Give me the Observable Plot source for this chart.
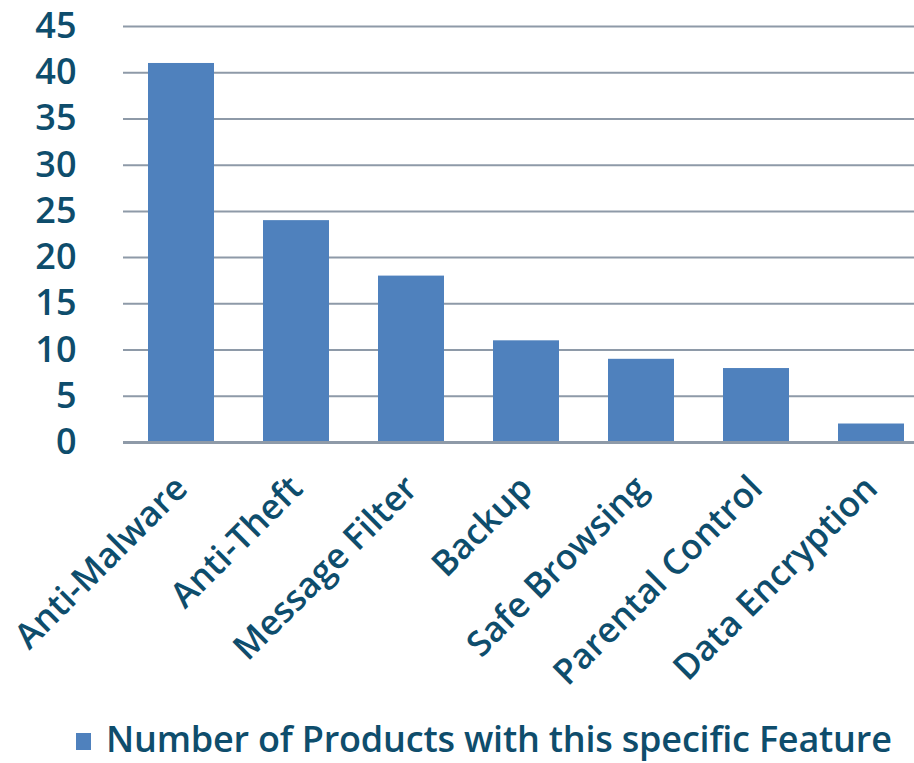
<!DOCTYPE html>
<html>
<head>
<meta charset="utf-8">
<script src="https://cdn.jsdelivr.net/npm/d3@7"></script>
<script src="https://cdn.jsdelivr.net/npm/@observablehq/plot@0.6"></script>
<style>
  html, body { margin: 0; padding: 0; background: #fff; }
  body { width: 914px; height: 763px; overflow: hidden; font-family: "Open Sans", sans-serif; }
  #legend { position: absolute; left: 76px; top: 720px; height: 38px; line-height: 38px; display: flex; align-items: center; color: #0E4D6C; font-size: 36px; font-weight: 600; white-space: nowrap; letter-spacing: -0.2px; }
  #legend .sw { width: 15px; height: 17px; background: #4F81BD; margin-right: 15px; margin-top: 4px; }
</style>
</head>
<body>
<div id="chart"></div>
<div id="legend"><span class="sw"></span><span>Number of Products with this specific Feature</span></div>
<script>
const categories = ["Anti-Malware", "Anti-Theft", "Message Filter", "Backup", "Safe Browsing", "Parental Control", "Data Encryption"];
const values = [41, 24, 18, 11, 9, 8, 2];
const yTicks = [0, 5, 10, 15, 20, 25, 30, 35, 40, 45];
const seriesName = "Number of Products with this specific Feature";

const data = categories.map((c, i) => ({feature: c, count: values[i]}));
const textColor = "#0E4D6C";

const chart = Plot.plot({
  width: 914,
  height: 716,
  marginLeft: 123,
  marginRight: 0,
  marginTop: 26,
  marginBottom: 274,
  style: {fontFamily: "'Open Sans', sans-serif", fontWeight: 600, background: "#fff", overflow: "visible"},
  x: {domain: categories, range: [123, 929], paddingInner: 0.43, paddingOuter: 0.215},
  y: {domain: [0, 45], range: [442, 26]},
  marks: [
    Plot.ruleY(yTicks.filter(d => d > 0), {stroke: "#8E9AA8", strokeWidth: 2, strokeOpacity: 1}),
    Plot.barY(data, {x: "feature", y: "count", fill: "#4F81BD"}),
    Plot.ruleY([0], {stroke: "#8E9AA8", strokeWidth: 3, strokeOpacity: 1}),
    Plot.axisY({ticks: yTicks, tickSize: 0, tickPadding: 47, fontSize: 36, fill: textColor, label: null}),
    Plot.axisX({tickSize: 0, tickPadding: 40, tickRotate: -45, fontSize: 35, fill: textColor, label: null})
  ]
});
document.getElementById("chart").appendChild(chart);
</script>
</body>
</html>
